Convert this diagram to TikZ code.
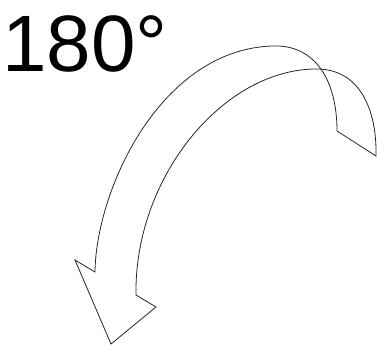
\documentclass[tikz,border=0pt]{standalone}
\usepackage{fontspec}
\setmainfont{Liberation Sans}
\begin{document}
\begin{tikzpicture}[
  x=1pt, y=-1pt,
  angle/.style={font=\fontsize{80}{80}\selectfont, inner sep=0pt, anchor=base west},
  outline/.style={draw=black!85, line width=0.8pt, line join=miter},
]
\useasboundingbox (0,0) rectangle (377,345);
\node[angle] (deg) at (2,71) {180°};

% turning arrow, drawn as one closed outline
\draw[outline] (95,272)
  .. controls (96,190) and (160,50) .. (272,46)
  .. controls (315,44) and (337,80) .. (337,131)
  -- (376,156)
  .. controls (377,110) and (360,67) .. (313,69)
  .. controls (220,72) and (134,180) .. (136,295)
  -- (156,307) -- (111,344) -- (75,260) -- cycle;
\end{tikzpicture}
\end{document}
